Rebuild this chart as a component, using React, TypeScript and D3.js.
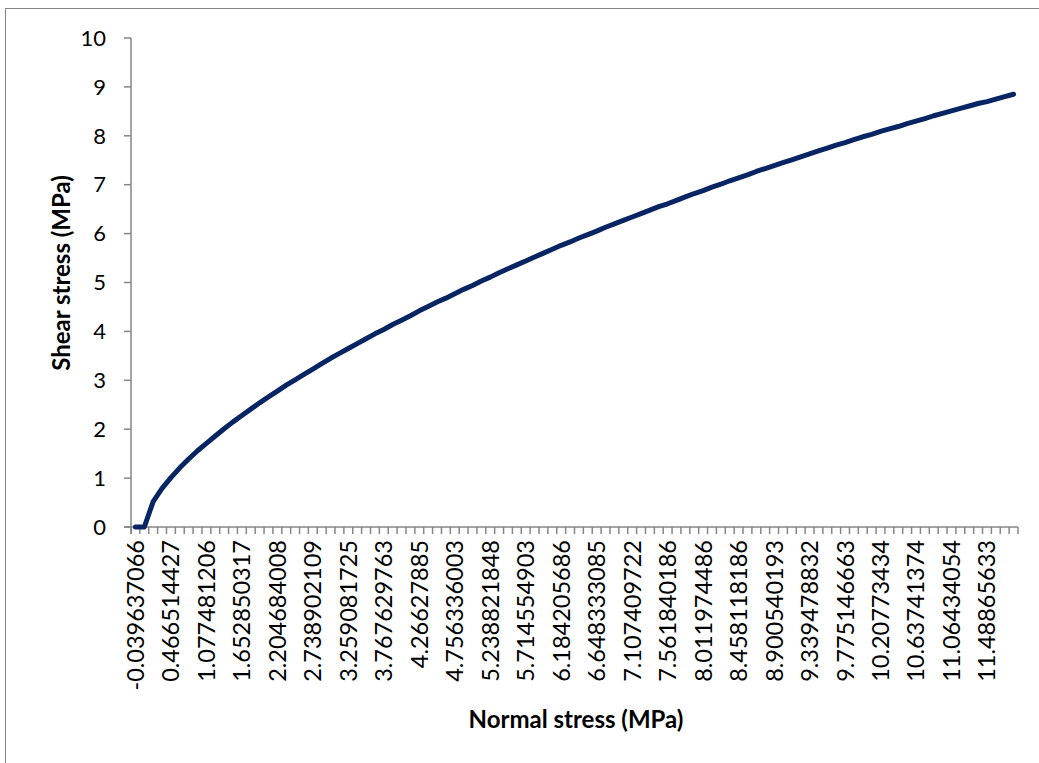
import React from 'react';
import * as d3 from 'd3';

// Normal stress labels shown on the category axis (every 4th category)
const normalLabels = [
  '-0.039637066', '0.466514427', '1.077481206', '1.652850317', '2.204684008',
  '2.738902109', '3.259081725', '3.767629763', '4.26627885', '4.756336003',
  '5.238821848', '5.714554903', '6.184205686', '6.648333085', '7.107409722',
  '7.561840186', '8.011974486', '8.458118186', '8.900540193', '9.339478832',
  '9.775146663', '10.20773434', '10.63741374', '11.06434054', '11.48865633',
];
const labelStep = 4;

// Shear stress (MPa) for each of the 100 categories
const shearStress = [
  0, 0, 0.52, 0.79, 1.01, 1.21, 1.39, 1.56, 1.71, 1.86,
  2.01, 2.15, 2.28, 2.41, 2.54, 2.66, 2.78, 2.9, 3.01, 3.12,
  3.23, 3.34, 3.45, 3.55, 3.65, 3.75, 3.85, 3.95, 4.04, 4.14,
  4.23, 4.32, 4.42, 4.51, 4.6, 4.68, 4.77, 4.86, 4.94, 5.03,
  5.11, 5.2, 5.28, 5.36, 5.44, 5.52, 5.6, 5.68, 5.76, 5.83,
  5.91, 5.98, 6.05, 6.13, 6.2, 6.27, 6.34, 6.41, 6.48, 6.55,
  6.61, 6.68, 6.75, 6.82, 6.88, 6.95, 7.01, 7.08, 7.14, 7.2,
  7.27, 7.33, 7.39, 7.45, 7.51, 7.57, 7.63, 7.69, 7.75, 7.81,
  7.86, 7.92, 7.98, 8.03, 8.09, 8.14, 8.19, 8.25, 8.3, 8.35,
  8.41, 8.46, 8.51, 8.56, 8.61, 8.66, 8.7, 8.75, 8.8, 8.85,
];

const yTicks = [0, 1, 2, 3, 4, 5, 6, 7, 8, 9, 10];

const W = 1039;
const H = 763;
const plot = { left: 131, right: 1018, top: 38, bottom: 527 };
const axisColor = '#868686';
const font = 'Lato, "Open Sans", sans-serif';

export default function App() {
  const x = d3
    .scaleBand<number>()
    .domain(d3.range(shearStress.length))
    .range([plot.left, plot.right]);
  const y = d3.scaleLinear().domain([0, 10]).range([plot.bottom, plot.top]);
  const cx = (i: number) => (x(i) as number) + x.bandwidth() / 2;

  const line = d3
    .line<number>()
    .x((_, i) => cx(i))
    .y((d) => y(d));

  const boundaries = d3.range(shearStress.length + 1).map(
    (k) => plot.left + k * x.step()
  );

  return (
    <svg
      width={W}
      height={H}
      style={{ position: 'absolute', left: 0, top: 0, background: '#fff' }}
    >
      {/* outer chart border */}
      <rect x={5.5} y={8.5} width={W + 10} height={H + 10} fill="#fff" stroke={axisColor} strokeWidth={1} />

      {/* y axis */}
      <line x1={plot.left} x2={plot.left} y1={plot.top} y2={plot.bottom + 7} stroke={axisColor} strokeWidth={1.5} />
      {yTicks.map((t) => (
        <g key={t}>
          <line x1={plot.left - 7} x2={plot.left} y1={y(t)} y2={y(t)} stroke={axisColor} strokeWidth={1.5} />
          <text
            x={106}
            y={y(t)}
            dy="0.35em"
            textAnchor="end"
            fontFamily={font}
            fontSize={22}
            fill="#000"
          >
            {t}
          </text>
        </g>
      ))}

      {/* x axis */}
      <line x1={plot.left - 7} x2={plot.right} y1={plot.bottom} y2={plot.bottom} stroke={axisColor} strokeWidth={1.5} />
      {boundaries.map((bx, k) => (
        <line key={k} x1={bx} x2={bx} y1={plot.bottom} y2={plot.bottom + 7} stroke={axisColor} strokeWidth={1.5} />
      ))}
      {normalLabels.map((lab, j) => {
        const px = cx(j * labelStep);
        return (
          <text
            key={lab}
            transform={`translate(${px},${540}) rotate(-90)`}
            dy="0.36em"
            textAnchor="end"
            fontFamily={font}
            fontSize={23.5}
            fill="#000"
          >
            {lab}
          </text>
        );
      })}

      {/* curve */}
      <path
        d={line(shearStress) || ''}
        fill="none"
        stroke="#072562"
        strokeWidth={5}
        strokeLinejoin="round"
        strokeLinecap="round"
      />

      {/* axis titles */}
      <text
        transform={`translate(62,${273}) rotate(-90)`}
        textAnchor="middle"
        dy="0.35em"
        fontFamily={font}
        fontWeight="bold"
        fontSize={24}
        fill="#000"
      >
        Shear stress (MPa)
      </text>
      <text
        x={576}
        y={720}
        textAnchor="middle"
        dy="0.35em"
        fontFamily={font}
        fontWeight="bold"
        fontSize={24}
        fill="#000"
      >
        Normal stress (MPa)
      </text>
    </svg>
  );
}
